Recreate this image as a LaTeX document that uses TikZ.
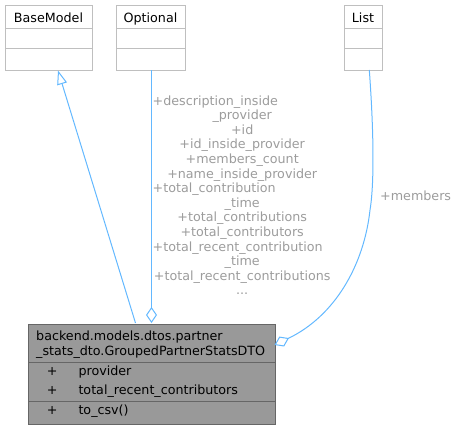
\documentclass[tikz,border=0pt]{standalone}
\usepackage{fontspec}
\setmainfont{DejaVu Sans}
\usetikzlibrary{arrows.meta}
\definecolor{edgeblue}{HTML}{63B8FF}
\definecolor{lblgray}{HTML}{9C9C9C}
\definecolor{extborder}{HTML}{BFBFBF}
\definecolor{dtofill}{HTML}{999999}
\definecolor{dtoborder}{HTML}{666666}
\begin{document}
\begin{tikzpicture}[x=1pt,y=-1pt,
  every node/.style={font=\fontsize{12.7}{14.6}\selectfont, inner sep=0pt},
  extbox/.style={draw=extborder, fill=white, line width=1pt, anchor=north west},
  dtobox/.style={draw=dtoborder, fill=dtofill, line width=1pt, anchor=north west},
  extsep/.style={draw=extborder, line width=1pt},
  dtosep/.style={draw=dtoborder, line width=1pt},
  edge/.style={draw=edgeblue, line width=1pt},
  lbl/.style={text=lblgray},
  aggr/.style={-{Diamond[open,length=16pt,width=11pt,line width=1pt]}},
  inher/.style={-{Triangle[open,length=14pt,width=10pt,line width=1pt]}}
]
\useasboundingbox (0,0) rectangle (458,429);

% external classes
\node[extbox, minimum width=87pt, minimum height=65pt] (base) at (5,5) {};
\draw[extsep] (5,28.5) -- (92,28.5) (5,48) -- (92,48);
\node[anchor=base] (baset) at (48.5,22) {BaseModel};

\node[extbox, minimum width=69pt, minimum height=65pt] (opt) at (116,5) {};
\draw[extsep] (116,28.5) -- (185,28.5) (116,48) -- (185,48);
\node[anchor=base] (optt) at (150.5,22) {Optional};

\node[extbox, minimum width=38pt, minimum height=65pt] (lst) at (344,5) {};
\draw[extsep] (344,28.5) -- (382,28.5) (344,48) -- (382,48);
\node[anchor=base] (lstt) at (363,22) {List};

% main class
\node[dtobox, minimum width=247pt, minimum height=100pt] (dto) at (28,323.5) {};
\draw[dtosep] (28,362) -- (275,362) (28,401) -- (275,401);
\node[anchor=base west] (t1) at (36,340.5) {backend.models.dtos.partner};
\node[anchor=base west] (t2) at (36,355.5) {\_stats\_dto.GroupedPartnerStatsDTO};
\node[anchor=base] (p1) at (52.3,375.5) {+};
\node[anchor=base west] (a1) at (78.3,375.5) {provider};
\node[anchor=base] (p2) at (52.3,394.5) {+};
\node[anchor=base west] (a2) at (78.3,394.5) {total\_recent\_contributors};
\node[anchor=base] (p3) at (52.3,414.5) {+};
\node[anchor=base west] (m1) at (78.3,414.5) {to\_csv()};

% edges
\coordinate (inhstart) at (135.5,323);
\coordinate (inhtip) at (58,70.5);
\draw[edge, inher] (inhstart) -- (inhtip);

\coordinate (optstart) at (151.5,70);
\coordinate (opttip) at (151.5,323);
\draw[edge, aggr] (optstart) -- (opttip);

\coordinate (lstart) at (369.3,70);
\coordinate (ltip) at (274.5,345);
\draw[edge, aggr] (lstart) .. controls (373,120) and (375,180) .. (370,210)
  .. controls (364,265) and (335,316) .. (ltip);

% labels
\node[lbl, anchor=north, text width=179pt, align=center] (optlbl) at (242.2,95.3) {%
\makebox[179pt][l]{+description\_inside}\\
\_provider\\
+id\\
+id\_inside\_provider\\
+members\_count\\
+name\_inside\_provider\\
\makebox[179pt][l]{+total\_contribution}\\
\_time\\
+total\_contributions\\
+total\_contributors\\
\makebox[179pt][l]{+total\_recent\_contribution}\\
\_time\\
+total\_recent\_contributions\\
...};
\node[lbl, anchor=base west] (lstlbl) at (380,200) {+members};
\end{tikzpicture}
\end{document}
